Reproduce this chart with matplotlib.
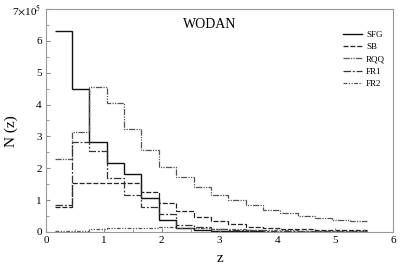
import matplotlib
matplotlib.use("Agg")
import matplotlib.pyplot as plt
from matplotlib.ticker import MultipleLocator, FuncFormatter

plt.rcParams['font.family'] = ['Liberation Serif', 'DejaVu Serif']
plt.rcParams['mathtext.fontset'] = 'stix'

z_edges = [0.15, 0.45, 0.75, 1.05, 1.35, 1.65, 1.95, 2.25, 2.55, 2.85,
           3.15, 3.45, 3.75, 4.05, 4.35, 4.65, 4.95, 5.25, 5.55]

# N(z) in units of 1e5
sfg = [6.30, 4.50, 2.82, 2.18, 1.82, 1.08, 0.38, 0.13, 0.05, 0.03,
       0.02, 0.02, 0.01, 0.01, 0.01, 0.01, 0.01, 0.01]
sb = [0.78, 1.53, 1.55, 1.55, 1.53, 1.26, 0.90, 0.66, 0.47, 0.35,
      0.24, 0.16, 0.12, 0.10, 0.08, 0.07, 0.06, 0.05]
rqq = [2.30, 3.15, 4.55, 4.05, 3.24, 2.58, 2.03, 1.74, 1.42, 1.16,
       1.00, 0.84, 0.69, 0.59, 0.51, 0.44, 0.37, 0.33]
fr1 = [0.85, 2.82, 2.55, 1.70, 1.15, 0.78, 0.55, 0.22, 0.15, 0.10,
       0.07, 0.05, 0.04, 0.03, 0.03, 0.02, 0.02, 0.02]
fr2 = [0.02, 0.04, 0.09, 0.11, 0.13, 0.14, 0.15, 0.14, 0.12, 0.10,
       0.08, 0.07, 0.06, 0.05, 0.04, 0.04, 0.03, 0.03]

labels = ['SFG', 'SB', 'RQQ', 'FR1', 'FR2']
series = [sfg, sb, rqq, fr1, fr2]
scale = 1e5

styles = [
    dict(color='#111111', linestyle='-', lw=1.0),
    dict(color='#222222', linestyle=(0, (4, 1.5)), lw=0.9),
    dict(color='#555555', linestyle=(0, (5, 1, 1, 1, 1, 1)), lw=0.9),
    dict(color='#333333', linestyle=(0, (6, 1.5, 1.5, 1.5)), lw=0.9),
    dict(color='#555555', linestyle=(0, (3, 1.2, 1, 1.2, 1, 1.2)), lw=0.9),
]

fig = plt.figure(figsize=(4.07, 2.71), dpi=100)
ax = fig.add_axes([0.113, 0.144, 0.853, 0.823])

for lab, vals, st in zip(labels, series, styles):
    ax.stairs([v * scale for v in vals], z_edges, baseline=None, label=lab, **st)

ax.set_xlim(0, 6)
ax.set_ylim(0, 7e5)
ax.xaxis.set_major_locator(MultipleLocator(1))
ax.xaxis.set_minor_locator(MultipleLocator(0.5))
ax.yaxis.set_major_locator(MultipleLocator(1e5))
ax.yaxis.set_minor_locator(MultipleLocator(0.5e5))

def yfmt(v, pos):
    n = int(round(v / 1e5))
    if n == 7:
        return r'7$\times$10$^5$'
    return str(n)

ax.yaxis.set_major_formatter(FuncFormatter(yfmt))
ax.tick_params(which='both', direction='in', top=False, right=False,
               labelsize=8, color='#888888', pad=3)
ax.tick_params(which='major', length=3)
ax.tick_params(which='minor', length=2)
for sp in ax.spines.values():
    sp.set_color('#999999')
    sp.set_linewidth(0.8)

ax.set_xlabel('z', fontsize=11, labelpad=5)
ax.set_ylabel('N (z)', fontsize=11)
ax.yaxis.set_label_coords(-0.082, 0.45)

ax.text(2.36, 6.5e5, 'WODAN', fontsize=10, va='center', ha='left')

leg = ax.legend(loc='upper right', bbox_to_anchor=(1.0, 0.94), frameon=False,
                fontsize=6.5, handlelength=2.0, handletextpad=0.5,
                labelspacing=0.45)

fig.savefig('out.png', dpi=100)
